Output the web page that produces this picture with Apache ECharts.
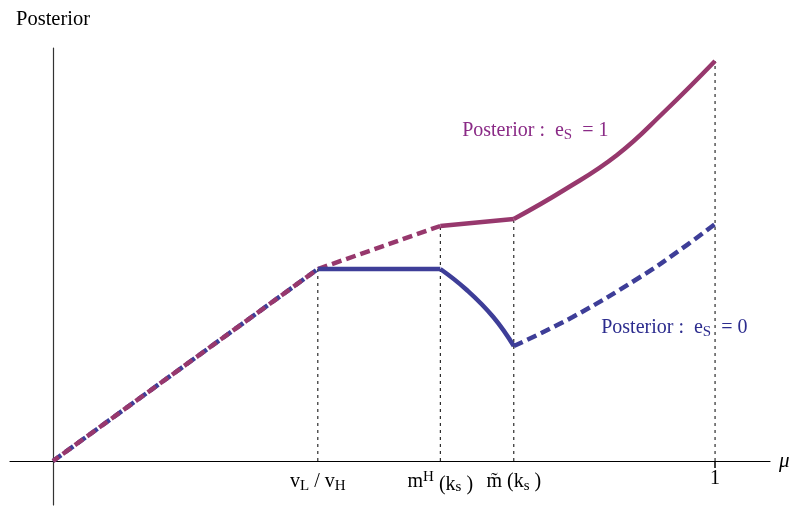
<!DOCTYPE html>
<html>
<head>
<meta charset="utf-8">
<script src="https://cdn.jsdelivr.net/npm/echarts@6/dist/echarts.min.js"></script>
<style>
  html, body { margin: 0; padding: 0; background: #fff; }
  #chart { width: 792px; height: 506px; }
</style>
</head>
<body>
<div id="chart"></div>
<script>
// x positions of the marked points on the mu axis
var tickValues = [0.4, 0.585, 0.696, 1];
var tickKeys = ['vlvh', 'mh', 'mtilde', 'one'];
// tops of the dotted guide lines
var guideTops = [0.48, 0.5875, 0.605, 1.0];

// posterior with e_s = 1 (purple)
var purpleDashA = [[0, 0], [0.4, 0.48]];
var purpleDashB = [[0.4, 0.48], [0.585, 0.5875]];
var purpleFlat = [[0.585, 0.5875], [0.696, 0.605]];
var purpleCurve = [[0.696, 0.605], [0.772, 0.6775], [0.852, 0.765], [0.923, 0.8725], [1, 1.0]];

// posterior with e_s = 0 (blue)
var blueDashA = [[0, 0], [0.4, 0.48]];
var blueFlat = [[0.4, 0.48], [0.585, 0.48]];
var blueDrop = [[0.585, 0.48], [0.625, 0.4275], [0.665, 0.36], [0.696, 0.2875]];
var blueDashB = [[0.696, 0.2875], [0.785, 0.36], [0.887, 0.46], [0.947, 0.5275], [1, 0.5925]];

// label anchors
var labelOne = [0.618, 0.825];
var labelZero = [0.828, 0.3325];

var purple = '#97386d';
var blue = '#3e3e98';
var purpleText = '#8a2a86';
var blueText = '#2c2c8e';
var serif = 'Liberation Serif';

var chart = echarts.init(document.getElementById('chart'));

function lineSeries(data, color, dashed, smooth, offset) {
  return {
    type: 'line',
    data: data,
    symbol: 'none',
    smooth: smooth ? 0.45 : false,
    silent: true,
    lineStyle: {
      color: color,
      width: 4.5,
      type: dashed ? [10, 5] : 'solid',
      dashOffset: offset || 0,
      cap: 'butt'
    },
    z: 3
  };
}

var guideSeries = tickValues.map(function (x, i) {
  return {
    type: 'line',
    data: [[x, 0], [x, guideTops[i]]],
    symbol: 'none',
    silent: true,
    lineStyle: { color: '#000', width: 1, type: [3, 4] },
    z: 1
  };
});

var labels = {
  vlvh: '{v|v}{sub|L}{v| / v}{sub|H}',
  mh: '{v|m}{sup|H}{low| (k}{sub|s}{low| )}',
  mtilde: '{v|m\u0303 (k}{sub|s}{v| )}',
  one: '{v|1}'
};

function annot(anchor, text, color) {
  return {
    type: 'scatter',
    symbolSize: 0,
    silent: true,
    itemStyle: { opacity: 1 },
    data: [anchor],
    label: {
      show: true,
      position: 'inside',
      align: 'left',
      verticalAlign: 'middle',
      formatter: '{t|Posterior :  e}{sub|S}{t|  = ' + text + '}',
      rich: {
        t: { fontFamily: serif, fontSize: 20, color: color },
        sub: { fontFamily: serif, fontSize: 15, color: color, padding: [9, 0, 0, 0] }
      }
    },
    z: 5
  };
}

var option = {
  animation: false,
  grid: { left: 10, right: 22, top: 48, bottom: 1, containLabel: false, outerBoundsMode: 'none' },
  xAxis: {
    type: 'value',
    min: -0.065,
    max: 1.083,
    position: 'bottom',
    offset: -44,
    name: 'μ',
    nameLocation: 'end',
    nameGap: 9,
    nameTextStyle: { fontFamily: serif, fontStyle: 'italic', fontSize: 21, color: '#000' },
    axisLine: { onZero: false, lineStyle: { color: '#000', width: 1.2 } },
    axisTick: { show: true, customValues: [1], length: 7, lineStyle: { color: '#000', width: 1.5 } },
    splitLine: { show: false },
    axisLabel: {
      show: true,
      customValues: tickValues,
      margin: 8,
      formatter: function (val) {
        var i = tickValues.indexOf(val);
        return i < 0 ? '' : labels[tickKeys[i]];
      },
      rich: {
        v: { fontFamily: serif, fontSize: 20, color: '#000' },
        low: { fontFamily: serif, fontSize: 20, color: '#000', padding: [6, 0, 0, 0] },
        sub: { fontFamily: serif, fontSize: 15, color: '#000', padding: [10, 0, 0, 0] },
        sup: { fontFamily: serif, fontSize: 15, color: '#000', padding: [0, 0, 10, 0] }
      }
    }
  },
  yAxis: {
    type: 'value',
    min: -0.11,
    max: 1.0325,
    name: 'Posterior',
    nameLocation: 'end',
    nameGap: 18,
    nameTextStyle: { fontFamily: serif, fontSize: 20.5, color: '#000' },
    axisLine: { show: true, onZero: true, lineStyle: { color: '#333', width: 1.2 } },
    axisTick: { show: false },
    axisLabel: { show: false },
    splitLine: { show: false }
  },
  series: guideSeries.concat([
    lineSeries(blueDashA, blue, true, false, 0),
    lineSeries(purpleDashA, purple, true, false, 3),
    lineSeries(purpleDashB, purple, true, false, 0),
    lineSeries(purpleFlat, purple, false, false),
    lineSeries(purpleCurve, purple, false, true),
    lineSeries(blueFlat, blue, false, false),
    lineSeries(blueDrop, blue, false, true),
    lineSeries(blueDashB, blue, true, true, 0),
    annot(labelOne, '1', purpleText),
    annot(labelZero, '0', blueText)
  ])
};

chart.setOption(option);
</script>
</body>
</html>
